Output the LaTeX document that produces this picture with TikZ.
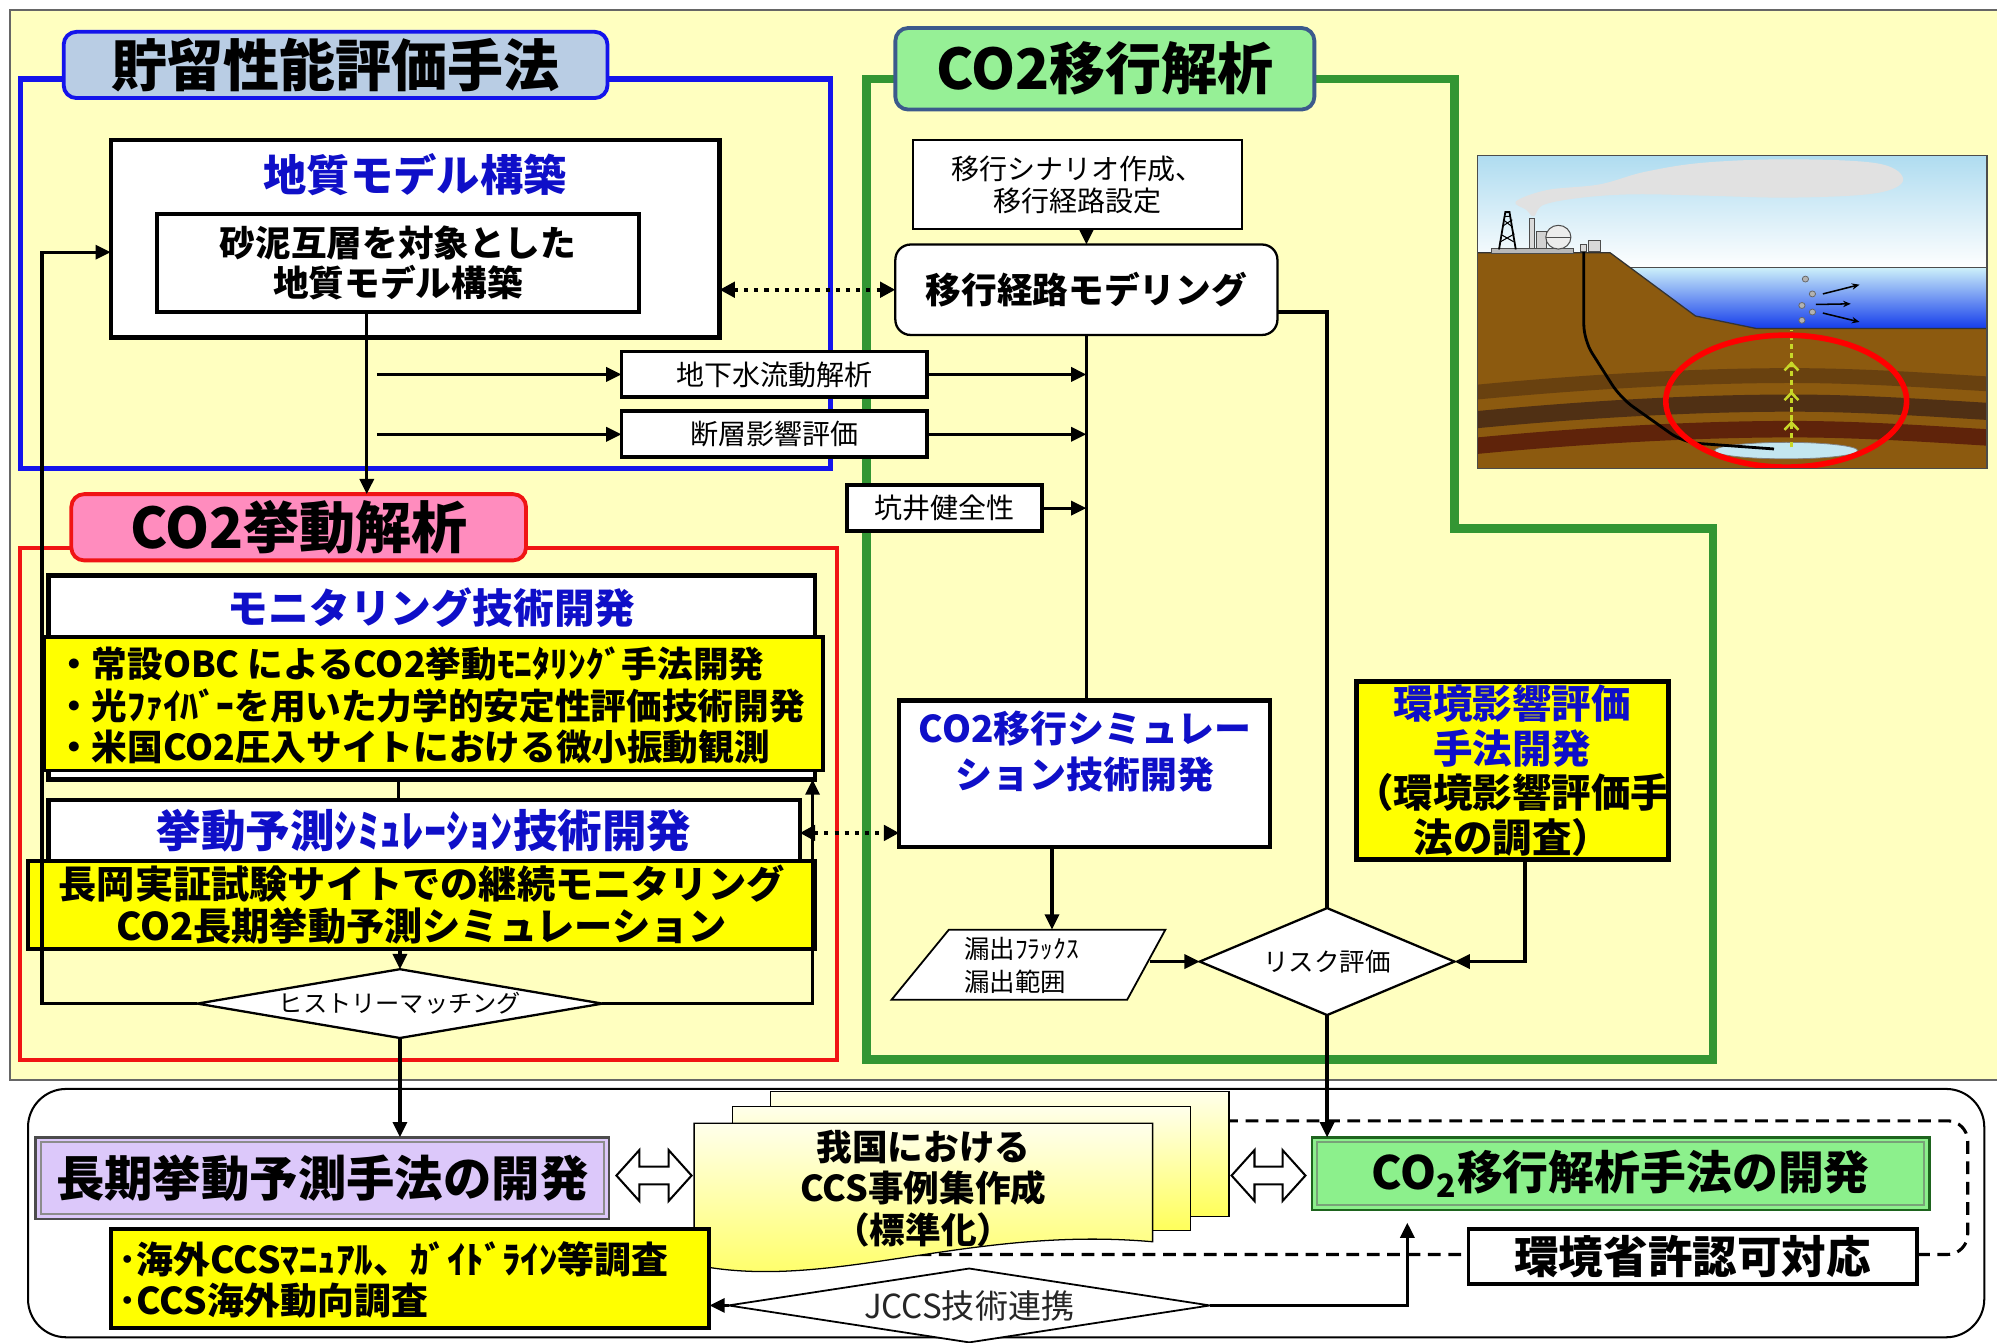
\documentclass[tikz,border=0pt]{standalone}
\usepackage{fontspec}
\setmainfont{Noto Sans CJK JP}
\usetikzlibrary{fit,calc,shapes.geometric,arrows.meta}

\definecolor{bgyellow}{RGB}{255,255,192}
\definecolor{frameblue}{RGB}{20,20,235}
\definecolor{titleblue}{RGB}{185,205,228}
\definecolor{framegreen}{RGB}{51,150,51}
\definecolor{titlegreen}{RGB}{150,240,150}
\definecolor{titlegreenline}{RGB}{60,90,140}
\definecolor{framered}{RGB}{240,20,20}
\definecolor{titlepink}{RGB}{255,140,190}
\definecolor{textblue}{RGB}{15,15,200}
\definecolor{boxyellow}{RGB}{255,255,0}
\definecolor{lavender}{RGB}{220,200,250}
\definecolor{boxgreen}{RGB}{140,240,140}
\definecolor{darkgreen}{RGB}{30,100,30}
\definecolor{docTop}{RGB}{255,255,235}
\definecolor{docBot}{RGB}{255,255,90}
\definecolor{skytop}{RGB}{175,220,240}
\definecolor{cloudgray}{RGB}{225,225,225}
\definecolor{landbrown}{RGB}{140,90,15}
\definecolor{seatop}{RGB}{205,240,250}
\definecolor{seabot}{RGB}{20,60,235}
\definecolor{bandA}{RGB}{105,65,15}
\definecolor{bandB}{RGB}{80,48,20}
\definecolor{bandC}{RGB}{95,35,10}
\definecolor{resblue}{RGB}{195,230,240}
\definecolor{ygreen}{RGB}{200,215,40}

\newcommand\fsz[2]{\fontsize{#1pt}{#2pt}\selectfont}
\newcommand\upx{0.5pt}
% hollow two-headed arrow from x=#1 to x=#2 at height #3
\newcommand\dblarrow[3]{%
  \draw[hollow] (#1,#3) -- ++(18,-20) -- ++(0,13) -- (#2-18,#3-7) -- ++(0,-13)
    -- (#2,#3) -- ++(-18,20) -- ++(0,-13) -- (#1+18,#3+7) -- ++(0,13) -- cycle;}

\begin{document}
\begin{tikzpicture}[x=0.5pt, y=-0.5pt,
  every node/.style={inner sep=0pt, outer sep=0pt},
  framebox/.style={draw=black, fill=white, line width=1.75pt},
  thinbox/.style={draw=black, fill=white, line width=1.5pt},
  ybox/.style={draw=black, fill=boxyellow, line width=1.4pt},
  sectitle/.style={rounded corners=5pt, line width=1.5pt},
  titletext/.style={font=\fsz{22}{26}\bfseries},
  conn/.style={line width=1.3pt, -{Triangle[length=6pt,width=5.5pt]}},
  wire/.style={line width=1.3pt},
  dotarrow/.style={line width=1.5pt, dash pattern=on 1.6pt off 2.4pt,
    {Triangle[length=6pt,width=6pt]}-{Triangle[length=6pt,width=6pt]}},
  hollow/.style={draw=black, fill=white, line width=0.8pt},
  decision/.style={diamond, draw=black, fill=white, line width=0.9pt},
]
\useasboundingbox (0,0) rectangle (1568,1054);

% ---------- base ----------
\fill[white] (0,0) rectangle (1568,1054);
\fill[bgyellow] (8,8) rectangle (1568,848);
\draw[black!60, line width=0.8pt] (1568,8) -- (8,8) -- (8,848) -- (1568,848);

% ---------- section frames ----------
\draw[frameblue, line width=2pt] (16,62) rectangle (652,368);
\draw[framered, line width=1.6pt] (16,430) rectangle (657,832);
\draw[framegreen, line width=3.5pt] (680,62) -- (1142,62) -- (1142,415) -- (1345,415)
  -- (1345,832) -- (680,832) -- cycle;

\node[fit={(50,25) (477,77)}, sectitle, draw=frameblue, fill=titleblue] (stTitle) {};
\node[titletext] (stTitleText) at (stTitle.center) {貯留性能評価手法};
\node[fit={(703,22) (1032,86)}, sectitle, draw=titlegreenline, fill=titlegreen] (mgTitle) {};
\node[titletext] (mgTitleText) at (mgTitle.center) {CO2移行解析};
\node[fit={(56,388) (413,440)}, sectitle, draw=framered, fill=titlepink] (bhTitle) {};
\node[titletext] (bhTitleText) at (bhTitle.center) {CO2挙動解析};

% ---------- geological model ----------
\node[fit={(87,110) (565,265)}, framebox] (geo) {};
\node[text=textblue, font=\fsz{17}{20}\bfseries] (geoTitle) at (326,137) {地質モデル構築};
\node[fit={(123,168) (502,245)}, framebox, line width=1.5pt] (geoIn) {};
\node[align=center, font=\fsz{14}{16}\bfseries] (geoInText) at (geoIn.center)
  {砂泥互層を対象とした\\地質モデル構築};

\node[fit={(488,276) (728,312)}, thinbox] (gw) {};
\node[font=\fsz{11}{13}] (gwText) at (gw.center) {地下水流動解析};
\node[fit={(488,323) (728,359)}, thinbox] (fault) {};
\node[font=\fsz{11}{13}] (faultText) at (fault.center) {断層影響評価};
\node[fit={(665,381) (818,417)}, thinbox] (well) {};
\node[font=\fsz{11}{13}] (wellText) at (well.center) {坑井健全性};

% ---------- migration analysis ----------
\node[fit={(717,110) (975,180)}, draw=black, fill=white, line width=0.7pt] (scen) {};
\node[align=center, font=\fsz{11}{12.5}] (scenText) at (scen.center) {移行シナリオ作成、\\移行経路設定};
\node[fit={(703,192) (1003,263)}, draw=black, fill=white, line width=0.9pt,
  rounded corners=6pt] (mod) {};
\node[font=\fsz{14}{16}\bfseries] (modText) at (mod.center) {移行経路モデリング};
\node[fit={(706,550) (997,665)}, framebox] (sim) {};
\node[text=textblue, align=center, font=\fsz{14.5}{18}\bfseries] (simTitle) at (852,590)
  {CO2移行シミュレー\\ション技術開発};

\draw[fill=white, line width=0.7pt] (745,730) -- (915,730) -- (885,785) -- (700,785) -- cycle;
\node[align=left, anchor=west, font=\fsz{10}{13}] (leak) at (757,758) {漏出ﾌﾗｯｸｽ\\漏出範囲};
\coordinate (leakTop) at (826,730);
\coordinate (leakR) at (903,755);

\node[decision, minimum width=200*\upx, minimum height=84*\upx] (risk) at (1042,755) {};
\node[font=\fsz{10}{12}] (riskText) at (risk.center) {リスク評価};

\node[fit={(1065,535) (1310,675)}, ybox, line width=1.75pt] (env) {};
\node[align=center, font=\fsz{15.5}{17.5}\bfseries] (envText) at (env.center)
  {\textcolor{textblue}{環境影響評価}\\\textcolor{textblue}{手法開発}\\（環境影響評価手\\法の調査）};

% ---------- behaviour analysis ----------
\node[fit={(38,452) (640,612)}, framebox] (mon) {};
\node[text=textblue, font=\fsz{16}{18}\bfseries] (monTitle) at (339,477) {モニタリング技術開発};
\node[fit={(35,500) (646,605)}, ybox] (monY) {};
\node[anchor=west, align=left, font=\fsz{14}{16.25}\bfseries] (monList) at (44,554)
  {・常設OBC によるCO2挙動ﾓﾆﾀﾘﾝｸﾞ手法開発\\・光ﾌｧｲﾊﾞｰを用いた力学的安定性評価技術開発\\・米国CO2圧入サイトにおける微小振動観測};

\node[fit={(38,628) (628,680)}, framebox] (pred) {};
\node[text=textblue, font=\fsz{17.5}{19}\bfseries] (predTitle) at (333,652) {挙動予測ｼﾐｭﾚｰｼｮﾝ技術開発};
\node[fit={(22,676) (640,745)}, ybox] (predY) {};
\node[align=center, font=\fsz{15}{16.5}\bfseries] (predYText) at (predY.center)
  {長岡実証試験サイトでの継続モニタリング\\CO2長期挙動予測シミュレーション};

\node[decision, minimum width=318*\upx, minimum height=54*\upx] (hm) at (314,788) {};
\node[font=\fsz{9.5}{11}] (hmText) at (314,788) {ヒストリーマッチング};

% ---------- storage illustration ----------
\begin{scope}[shift={(1160,122)}, xscale=0.274, yscale=0.259]
  \clip (0,0) rectangle (1460,950);
  \shade[top color=skytop, bottom color=white] (0,0) rectangle (1460,345);
  \fill[cloudgray] plot[smooth cycle, tension=0.6] coordinates
    {(110,140) (200,105) (350,88) (480,50) (650,22) (900,12) (1150,25) (1220,75)
     (1140,115) (900,128) (650,122) (450,118) (300,128) (190,150) (162,185) (140,165)};
  \fill[landbrown] (0,295) -- (380,295) -- (625,487) -- (800,525) -- (1460,525)
    -- (1460,950) -- (0,950) -- cycle;
  \shade[top color=seatop, bottom color=seabot] (437,340) -- (1460,340) -- (1460,525)
    -- (800,525) -- (625,487) -- cycle;
  \draw[black!70, line width=0.4pt] (437,340) -- (1460,340);
  \draw[black!80, line width=0.5pt] (0,295) -- (380,295) -- (625,487) -- (800,525) -- (1460,525);
  \foreach \a/\t/\c in {645/45/bandA, 725/52/bandB, 805/50/bandC} {
    \fill[\c] (0,\a+50) .. controls (400,\a+10) and (700,\a) .. (900,\a)
      .. controls (1100,\a) and (1300,\a+15) .. (1460,\a+25)
      -- (1460,\a+25+\t) .. controls (1300,\a+15+\t) and (1100,\a+\t) .. (900,\a+\t)
      .. controls (700,\a+\t) and (400,\a+10+\t) .. (0,\a+50+\t) -- cycle;
  }
  \filldraw[fill=resblue, draw=black!50, line width=0.3pt] (885,895) ellipse (205 and 25);
  \draw[black, line width=1.1pt, rounded corners=6pt] (305,290) -- (305,560) -- (410,735)
    -- (590,870) -- (850,890);
  \draw[ygreen, line width=1pt, dash pattern=on 2pt off 1.5pt] (900,885) -- (900,530);
  \foreach \v in {630,720,810}
    \draw[ygreen, line width=1pt] (880,\v+22) -- (900,\v) -- (920,\v+22);
  \foreach \p in {(940,375),(960,420),(930,455),(960,475),(930,500)}
    \filldraw[fill=gray!60, draw=black!60, line width=0.3pt] \p ellipse (9 and 9);
  \draw[-{Stealth[length=3pt,width=2.5pt]}, line width=0.6pt] (990,420) -- (1095,392);
  \draw[-{Stealth[length=3pt,width=2.5pt]}, line width=0.6pt] (970,452) -- (1070,450);
  \draw[-{Stealth[length=3pt,width=2.5pt]}, line width=0.6pt] (990,478) -- (1095,505);
  % plant on the shore
  \filldraw[fill=gray!55, draw=black!70, line width=0.3pt] (40,282) rectangle (275,298);
  \draw[black, line width=0.7pt] (62,285) -- (80,172) -- (92,172) -- (110,285);
  \draw[black, line width=0.4pt] (66,262) -- (106,238) (68,240) -- (104,262)
    (72,215) -- (100,195) (74,195) -- (98,215) (78,185) -- (94,185);
  \filldraw[fill=gray!30, draw=black!70, line width=0.3pt] (150,190) rectangle (162,282);
  \filldraw[fill=gray!35, draw=black!70, line width=0.3pt] (168,230) rectangle (198,282);
  \filldraw[fill=gray!15, draw=black!70, line width=0.4pt] (232,248) ellipse (36 and 36);
  \draw[black!70, line width=0.3pt] (196,248) -- (268,248);
  \filldraw[fill=gray!30, draw=black!70, line width=0.3pt] (318,258) rectangle (352,290);
  \filldraw[fill=gray!30, draw=black!70, line width=0.3pt] (296,270) rectangle (312,290);
  \draw[red, line width=2.2pt] (885,745) ellipse (345 and 200);
\end{scope}
\draw[black!70, line width=0.6pt] (1160,122) rectangle (1560,368);

% ---------- lower summary panel ----------
\draw[line width=0.8pt, fill=white, rounded corners=15pt] (22,855) rectangle (1558,1050);
\draw[line width=1.2pt, dash pattern=on 5pt off 3pt, rounded corners=8pt]
  (930,880) -- (1545,880) -- (1545,985) -- (600,985);

\shadedraw[top color=docTop, bottom color=docBot, draw=black, line width=0.5pt]
  (605,857) rectangle (965,955);
\shadedraw[top color=docTop, bottom color=docBot, draw=black, line width=0.5pt]
  (575,869) rectangle (935,966);
\shadedraw[top color=docTop, bottom color=docBot, draw=black, line width=0.5pt]
  (545,882) -- (905,882) -- (905,975) .. controls (760,962) and (650,1015) .. (545,993) -- cycle;
\node[fit={(545,857) (965,995)}] (docs) {};
\node[align=center, font=\fsz{14}{16.25}\bfseries] (docsText) at (725,933)
  {我国における\\CCS事例集作成\\（標準化）};

\node[fit={(28,893) (478,957)}, draw=black!70, fill=lavender, line width=1pt] (long) {};
\draw[black!45, line width=0.8pt] ($(long.south west)+(4,-4)$) rectangle ($(long.north east)+(-4,4)$);
\node[font=\fsz{19}{22}\bfseries] (longText) at (long.center) {長期挙動予測手法の開発};

\node[fit={(1030,893) (1515,950)}, draw=darkgreen, fill=boxgreen, line width=1pt] (co2dev) {};
\draw[darkgreen!60, line width=0.8pt] ($(co2dev.south west)+(4,-4)$) rectangle ($(co2dev.north east)+(-4,4)$);
\node[font=\fsz{18}{21}\bfseries] (co2devText) at (co2dev.center) {CO\textsubscript{2}移行解析手法の開発};

\node[fit={(1153,965) (1505,1008)}, framebox, line width=1.5pt] (permit) {};
\node[font=\fsz{17.5}{20}\bfseries] (permitText) at (permit.center) {環境省許認可対応};

\node[fit={(87,965) (557,1043)}, ybox, line width=1.5pt] (ovs) {};
\node[anchor=west, align=left, font=\fsz{14.5}{16}\bfseries] (ovsText) at (93,1005)
  {･海外CCSﾏﾆｭｱﾙ、ｶﾞｲﾄﾞﾗｲﾝ等調査\\･CCS海外動向調査};

\node[decision, line width=0.7pt, minimum width=378*\upx, minimum height=58*\upx] (jccs) at (761,1025) {};
\node[font=\fsz{13}{15}, text=black!85] (jccsText) at (761,1025) {JCCS技術連携};

\dblarrow{484}{543}{923}
\dblarrow{967}{1025}{923}

% ---------- connectors ----------
\coordinate (gdown) at (288,245);
\draw[conn] (gdown) -- (gdown |- bhTitle.north);
\coordinate (gwsrc) at (296,294);
\coordinate (fltsrc) at (296,341);
\draw[conn] (gwsrc) -- (gw.west);
\draw[conn] (fltsrc) -- (fault.west);
\draw[conn] (gw.east) -- (gw.east -| mod.south);
\draw[conn] (fault.east) -- (fault.east -| mod.south);
\draw[conn] (well.east) -- (well.east -| mod.south);
\draw[wire] (mod.south) -- (mod.south |- sim.north);
\draw[conn] (mod.north |- scen.south) -- (mod.north);
\draw[dotarrow] (geo.east |- mod.west) -- (mod.west);
\coordinate (modR) at (1003,245);
\draw[wire] (modR) -| (risk.north);
\draw[dotarrow] (pred.east) -- (pred.east -| sim.west);
\coordinate (simB) at (826,665);
\draw[conn] (simB) -- (leakTop);
\draw[conn] (leakR) -- (risk.west);
\draw[conn] ($(env.south)+(10,0)$) |- (risk.east);
\draw[conn] (risk.south) -- (risk.south |- co2dev.north);

\coordinate (linkA) at (313,612);
\coordinate (linkB) at (313,628);
\draw[wire] (linkA) -- (linkB);
\draw[conn] (hm.north |- predY.south) -- (hm.north);
\coordinate (loopL) at (33,788);
\coordinate (loopT) at (33,198);
\draw[conn] (hm.west) -- (loopL) -- (loopT) -- (loopT -| geo.west);
\coordinate (loopR) at (638,788);
\draw[conn] (hm.east) -- (loopR) -- (loopR |- mon.south);
\draw[conn] (hm.south) -- (hm.south |- long.north);

\draw[conn] (jccs.west) -- (jccs.west -| ovs.east);
\coordinate (jccsUp) at ($(co2dev.south west)+(75,0)$);
\draw[conn, shorten >=5pt] (jccs.east) -| (jccsUp);
\end{tikzpicture}
\end{document}
